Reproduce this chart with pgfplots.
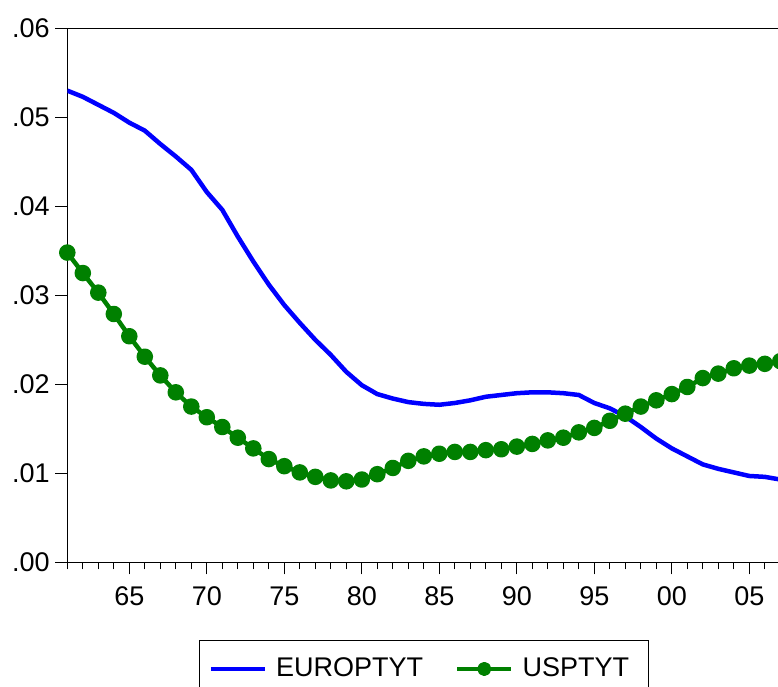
\documentclass[border=0pt]{standalone}
\usepackage{pgfplots}
\pgfplotsset{compat=1.18}
\usepackage{pgfplotstable}
\usepackage{fontspec}
\setmainfont{Liberation Sans}
\definecolor{eublue}{RGB}{0,0,255}
\definecolor{usgreen}{RGB}{0,128,0}

% Annual series, 1961-2007
\pgfplotstableread{
year europ  usp
1961 0.0530 0.0348
1962 0.0523 0.0325
1963 0.0514 0.0303
1964 0.0505 0.0279
1965 0.0494 0.0254
1966 0.0485 0.0231
1967 0.0470 0.0210
1968 0.0456 0.0191
1969 0.0441 0.0175
1970 0.0416 0.0163
1971 0.0396 0.0152
1972 0.0366 0.0140
1973 0.0338 0.0128
1974 0.0312 0.0116
1975 0.0289 0.0108
1976 0.0269 0.0101
1977 0.0250 0.0096
1978 0.0233 0.0092
1979 0.0214 0.0091
1980 0.0199 0.0093
1981 0.0189 0.0099
1982 0.0184 0.0106
1983 0.0180 0.0114
1984 0.0178 0.0119
1985 0.0177 0.0122
1986 0.0179 0.0124
1987 0.0182 0.0124
1988 0.0186 0.0126
1989 0.0188 0.0127
1990 0.0190 0.0130
1991 0.0191 0.0133
1992 0.0191 0.0137
1993 0.0190 0.0140
1994 0.0188 0.0146
1995 0.0179 0.0151
1996 0.0173 0.0159
1997 0.0164 0.0167
1998 0.0152 0.0175
1999 0.0139 0.0182
2000 0.0128 0.0189
2001 0.0119 0.0197
2002 0.0110 0.0207
2003 0.0105 0.0212
2004 0.0101 0.0218
2005 0.0097 0.0221
2006 0.0096 0.0223
2007 0.0093 0.0226
}\datatable

\begin{document}
\fontsize{27}{32}\selectfont
\begin{tikzpicture}
\begin{axis}[
  name=ax,
  scale only axis,
  width=713pt, height=534pt,
  xmin=1961, xmax=2007,
  ymin=0, ymax=0.06,
  axis line style={line width=1.2pt, black},
  tick style={line width=1.2pt, black},
  tick align=outside,
  major tick length=12pt,
  minor tick length=7pt,
  xtick pos=left, ytick pos=left,
  xtick={1965,1970,1975,1980,1985,1990,1995,2000,2005},
  xticklabels={65,70,75,80,85,90,95,00,05},
  minor xtick={1961,1962,...,2007},
  ytick={0,0.01,0.02,0.03,0.04,0.05,0.06},
  yticklabels={.00,.01,.02,.03,.04,.05,.06},
  scaled y ticks=false,
  /pgf/number format/assume math mode=true,
  tick label style={font=\fontsize{27}{32}\selectfont},
  xticklabel style={yshift=-3pt},
  yticklabel style={xshift=3.5pt},
  legend columns=2,
  legend style={
    at={(0.5,0)}, anchor=north, yshift=-77.7pt,
    draw=black, line width=1pt,
    font=\fontsize{27}{32}\selectfont,
    inner xsep=9pt, inner ysep=15pt,
    /tikz/every odd column/.append style={column sep=7pt},
    /tikz/every even column/.append style={column sep=30pt},
  },
  legend image code/.code={%
    \draw[mark repeat=2, mark phase=2, #1]
      plot coordinates {(0pt,0pt) (27pt,0pt) (54pt,0pt)};},
]
\addplot[eublue, line width=4.5pt, line join=round] table[x=year, y=europ] {\datatable};
\addlegendentry{EUROPTYT}
\addplot[usgreen, line width=4.5pt, line join=round, mark=*, mark size=6pt,
  mark options={fill=usgreen, draw=none},
  legend image post style={mark size=4.8pt}]
  table[x=year, y=usp] {\datatable};
\addlegendentry{USPTYT\kern8pt}
\end{axis}
\pgfresetboundingbox
\path[use as bounding box]
  ([xshift=-67.3pt, yshift=-123.7pt]ax.south west)
  rectangle ([xshift=-2.3pt, yshift=28.3pt]ax.north east);
\end{tikzpicture}
\end{document}
